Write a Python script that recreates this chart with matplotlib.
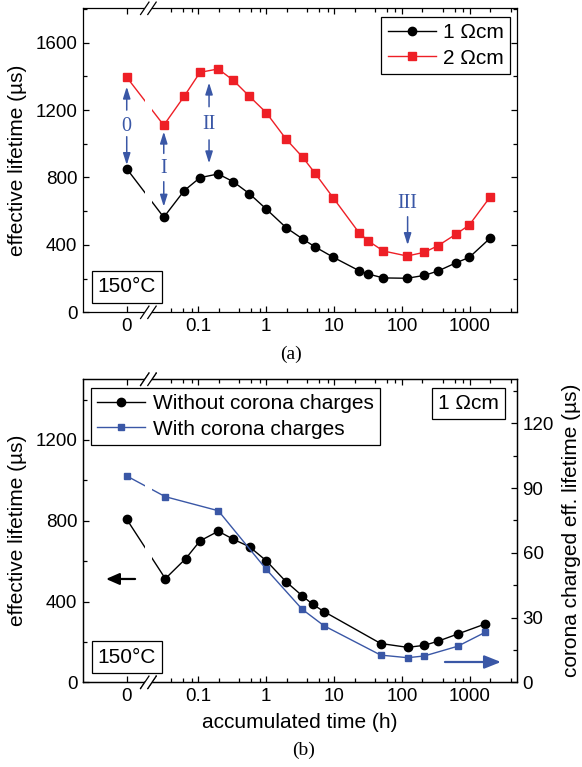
import numpy as np
import matplotlib
matplotlib.use("Agg")
import matplotlib.pyplot as plt
from matplotlib.ticker import FixedLocator, FixedFormatter, NullFormatter, MultipleLocator
from matplotlib.patches import Polygon
from matplotlib.lines import Line2D

plt.rcParams["font.family"] = ["Liberation Sans", "DejaVu Sans"]

# ---------------- data ----------------
# (a) annealing at 150 °C, two base resistivities
time_a = [0, 0.031, 0.062, 0.106, 0.196, 0.327, 0.565, 1.0, 1.97, 3.45, 5.2, 9.8,
          23.3, 32, 53, 119, 213, 339, 620, 980, 2000]
tau_1ohm = [852, 564, 722, 799, 821, 775, 704, 613, 502, 435, 389, 326,
            247, 227, 204, 202, 219, 245, 293, 326, 441]
tau_2ohm = [1395, 1110, 1282, 1424, 1444, 1377, 1282, 1185, 1027, 920, 827, 677,
            472, 423, 364, 334, 356, 395, 463, 518, 686]

# (b) 1 Ωcm, with and without corona charges
time_b = [0, 0.0327, 0.0652, 0.106, 0.197, 0.328, 0.568, 1.0, 1.96, 3.4, 4.84, 7.1,
          48.6, 121, 213, 336, 661, 1686]
tau_no_corona = [807, 513, 612, 700, 748, 708, 671, 602, 498, 428, 386, 350,
                 192, 173, 183, 203, 239, 289]
time_corona = [0, 0.0327, 0.197, 1.0, 3.4, 7.1, 48.6, 121, 213, 661, 1686]
tau_corona = [95.6, 86.0, 79.5, 52.4, 33.8, 26.2, 12.6, 11.4, 12.2, 16.7, 23.2]

# degradation stages marked in (a)
stage_time = [0, 0.031, 0.144, 121]
stage_label = ["0", "I", "II", "III"]
stage_text_y = [1102, 855, 1112, 643]
stage_up = [(1200, 1339), (943, 1072), (1220, 1363), None]
stage_down = [(1042, 874), (775, 627), (1023, 884), (567, 399)]

# time axis ticks
major_t = [0, 0.1, 1, 10, 100, 1000]
major_lbl = ["0", "0.1", "1", "10", "100", "1000"]
minor_t = [0.04, 0.06, 0.08] + [m * 10.0 ** e for e in range(-1, 4) for m in (2, 4, 6, 8)]

BLACK = "#000000"
RED = "#ee1f26"
BLUE = "#3a57a6"

# ------------- broken time scale: t = 0 sits left of a log axis -------------
ZERO_POS = -2.054          # axis position (decades) of t = 0


def _fwd(t):
    t = np.asarray(t, dtype=float)
    safe = np.where(t > 0, t, 1.0)
    return np.where(t > 0, np.log10(safe), ZERO_POS + t)


def _inv(p):
    p = np.asarray(p, dtype=float)
    return np.where(p > ZERO_POS, 10.0 ** np.minimum(p, 30), p - ZERO_POS)


GAP_T = (0.0164, 0.0206)     # hidden strip of the break
BREAK_T = 0.0184             # centre of the break marks


def setup_time_axis(ax, show_labels=True):
    ax.set_xscale("function", functions=(_fwd, _inv))
    ax.set_xlim(-0.644, 4940)
    ax.xaxis.set_major_locator(FixedLocator(major_t))
    ax.xaxis.set_major_formatter(FixedFormatter(major_lbl) if show_labels else NullFormatter())
    ax.xaxis.set_minor_locator(FixedLocator(minor_t))
    ax.xaxis.set_minor_formatter(NullFormatter())


def draw_break(ax):
    ax.axvspan(GAP_T[0], GAP_T[1], color="white", lw=0, zorder=2.1)
    xb = ax.transAxes.inverted().transform(ax.transData.transform((BREAK_T, 0)))[0]
    bb = ax.get_window_extent()
    hdx, hdy, sep = 4.2 / bb.width, 6.2 / bb.height, 3.6 / bb.width
    for yb in (0.0, 1.0):
        x1, x2 = xb - sep, xb + sep
        poly = Polygon([(x1 - hdx, yb - hdy), (x2 - hdx, yb - hdy),
                        (x2 + hdx, yb + hdy), (x1 + hdx, yb + hdy)],
                       closed=True, transform=ax.transAxes, fc="white", ec="none",
                       clip_on=False, zorder=5)
        ax.add_patch(poly)
        for xc in (x1, x2):
            ax.add_line(Line2D([xc - hdx, xc + hdx], [yb - hdy, yb + hdy],
                               transform=ax.transAxes, color="black", lw=0.9,
                               clip_on=False, zorder=6))


def style_ticks(ax, right=True):
    ax.tick_params(which="both", direction="in", top=True, right=right,
                   labelsize=13.5, pad=4, width=0.9)
    ax.tick_params(which="major", length=4.5)
    ax.tick_params(which="minor", length=2.6)
    for s in ax.spines.values():
        s.set_linewidth(0.9)


def boxed_text(ax, x, y, s, ha, va):
    ax.text(x, y, s, transform=ax.transAxes, ha=ha, va=va, fontsize=15, zorder=7,
            bbox=dict(boxstyle="square,pad=0.3", fc="white", ec="black", lw=0.9))


fig = plt.figure(figsize=(5.82, 7.67), dpi=100)
W, H = 582.0, 767.0
ax_a = fig.add_axes([83 / W, 1 - 312.3 / H, 434 / W, 304 / H])
ax_b = fig.add_axes([83 / W, 1 - 682.3 / H, 434 / W, 303 / H])

# ---------------- panel (a) ----------------
setup_time_axis(ax_a)
ax_a.plot(time_a, tau_1ohm, "-o", color=BLACK, ms=6, lw=1.0, label="1 \u03a9cm", zorder=2)
ax_a.plot(time_a, tau_2ohm, "-s", color=RED, ms=5.3, lw=1.0, label="2 \u03a9cm", zorder=2)
ax_a.set_ylim(0, 1804)
ax_a.yaxis.set_major_locator(MultipleLocator(400))
ax_a.yaxis.set_minor_locator(MultipleLocator(200))
style_ticks(ax_a)
ax_a.set_ylabel("effective lifetime (\u00b5s)", fontsize=15)
ax_a.yaxis.set_label_coords(-0.129, 0.5)

arrow_kw = dict(arrowstyle="-|>,head_length=0.7,head_width=0.22", color=BLUE, lw=1.1,
                shrinkA=0, shrinkB=0, mutation_scale=10)
for t, lbl, ty, up, dn in zip(stage_time, stage_label, stage_text_y, stage_up, stage_down):
    ax_a.text(t, ty, lbl, color=BLUE, fontsize=14.5, family=["Liberation Serif"],
              ha="center", va="center", zorder=3)
    for seg in (up, dn):
        if seg is not None:
            ax_a.annotate("", xy=(t, seg[1]), xytext=(t, seg[0]), arrowprops=arrow_kw,
                          zorder=3)

leg = ax_a.legend(loc="upper right", bbox_to_anchor=(0.984, 0.971), borderaxespad=0,
                  fontsize=15, frameon=True, fancybox=False, framealpha=1,
                  edgecolor="black", handlelength=2.3, handletextpad=0.35,
                  labelspacing=0.3, borderpad=0.3)
leg.get_frame().set_linewidth(0.9)
boxed_text(ax_a, 0.034, 0.052, "150\u00b0C", "left", "bottom")
draw_break(ax_a)

# ---------------- panel (b) ----------------
setup_time_axis(ax_b)
ax_b2 = ax_b.twinx()
ln1, = ax_b.plot(time_b, tau_no_corona, "-o", color=BLACK, ms=6, lw=1.0,
                 label="Without corona charges", zorder=2)
ln2, = ax_b2.plot(time_corona, tau_corona, "-s", color=BLUE, ms=5, lw=1.0,
                  label="With corona charges", zorder=2)
ax_b.set_ylim(0, 1500)
ax_b2.set_ylim(0, 140.4)
ax_b.yaxis.set_major_locator(MultipleLocator(400))
ax_b.yaxis.set_minor_locator(MultipleLocator(200))
ax_b2.yaxis.set_major_locator(MultipleLocator(30))
ax_b2.yaxis.set_minor_locator(MultipleLocator(15))
style_ticks(ax_b, right=False)
ax_b2.tick_params(which="both", direction="in", right=True, labelsize=13.5, pad=4, width=0.9)
ax_b2.tick_params(which="major", length=4.5)
ax_b2.tick_params(which="minor", length=2.6)
for s in ax_b2.spines.values():
    s.set_linewidth(0.9)

ax_b.set_ylabel("effective lifetime (\u00b5s)", fontsize=15)
ax_b.yaxis.set_label_coords(-0.129, 0.5)
ax_b2.set_ylabel("corona charged eff. lifetime (\u00b5s)", fontsize=15)
ax_b2.yaxis.set_label_coords(1.104, 0.5)
ax_b.set_xlabel("accumulated time (h)", fontsize=15)
ax_b.xaxis.set_label_coords(0.5, -0.101)

leg_b = ax_b2.legend([ln1, ln2], [ln1.get_label(), ln2.get_label()], loc="upper left",
                     bbox_to_anchor=(0.0177, 0.971), borderaxespad=0, fontsize=15,
                     frameon=True, fancybox=False, framealpha=1, edgecolor="black",
                     handlelength=2.3, handletextpad=0.4, labelspacing=0.3,
                     borderpad=0.3)
leg_b.get_frame().set_linewidth(0.9)
boxed_text(ax_b2, 0.958, 0.951, "1 \u03a9cm", "right", "top")
boxed_text(ax_b2, 0.034, 0.052, "150\u00b0C", "left", "bottom")

# axis pointers: black series -> left axis, blue series -> right axis
ax_b2.annotate("", xy=(0.053, 0.341), xytext=(0.12, 0.341), xycoords="axes fraction",
               arrowprops=dict(arrowstyle="-|>,head_length=0.8,head_width=0.35",
                               color=BLACK, lw=1.6, mutation_scale=10,
                               shrinkA=0, shrinkB=0))
ax_b2.annotate("", xy=(0.963, 0.067), xytext=(0.834, 0.067), xycoords="axes fraction",
               arrowprops=dict(arrowstyle="-|>,head_length=1.0,head_width=0.4",
                               color=BLUE, lw=1.6, mutation_scale=10,
                               shrinkA=0, shrinkB=0))
draw_break(ax_b)
draw_break(ax_b2)

fig.text(291 / W, 1 - 354 / H, "(a)", family=["Liberation Serif"], fontsize=14,
         ha="center", va="center")
fig.text(304 / W, 1 - 750 / H, "(b)", family=["Liberation Serif"], fontsize=14,
         ha="center", va="center")

fig.savefig("out.png", dpi=100)
